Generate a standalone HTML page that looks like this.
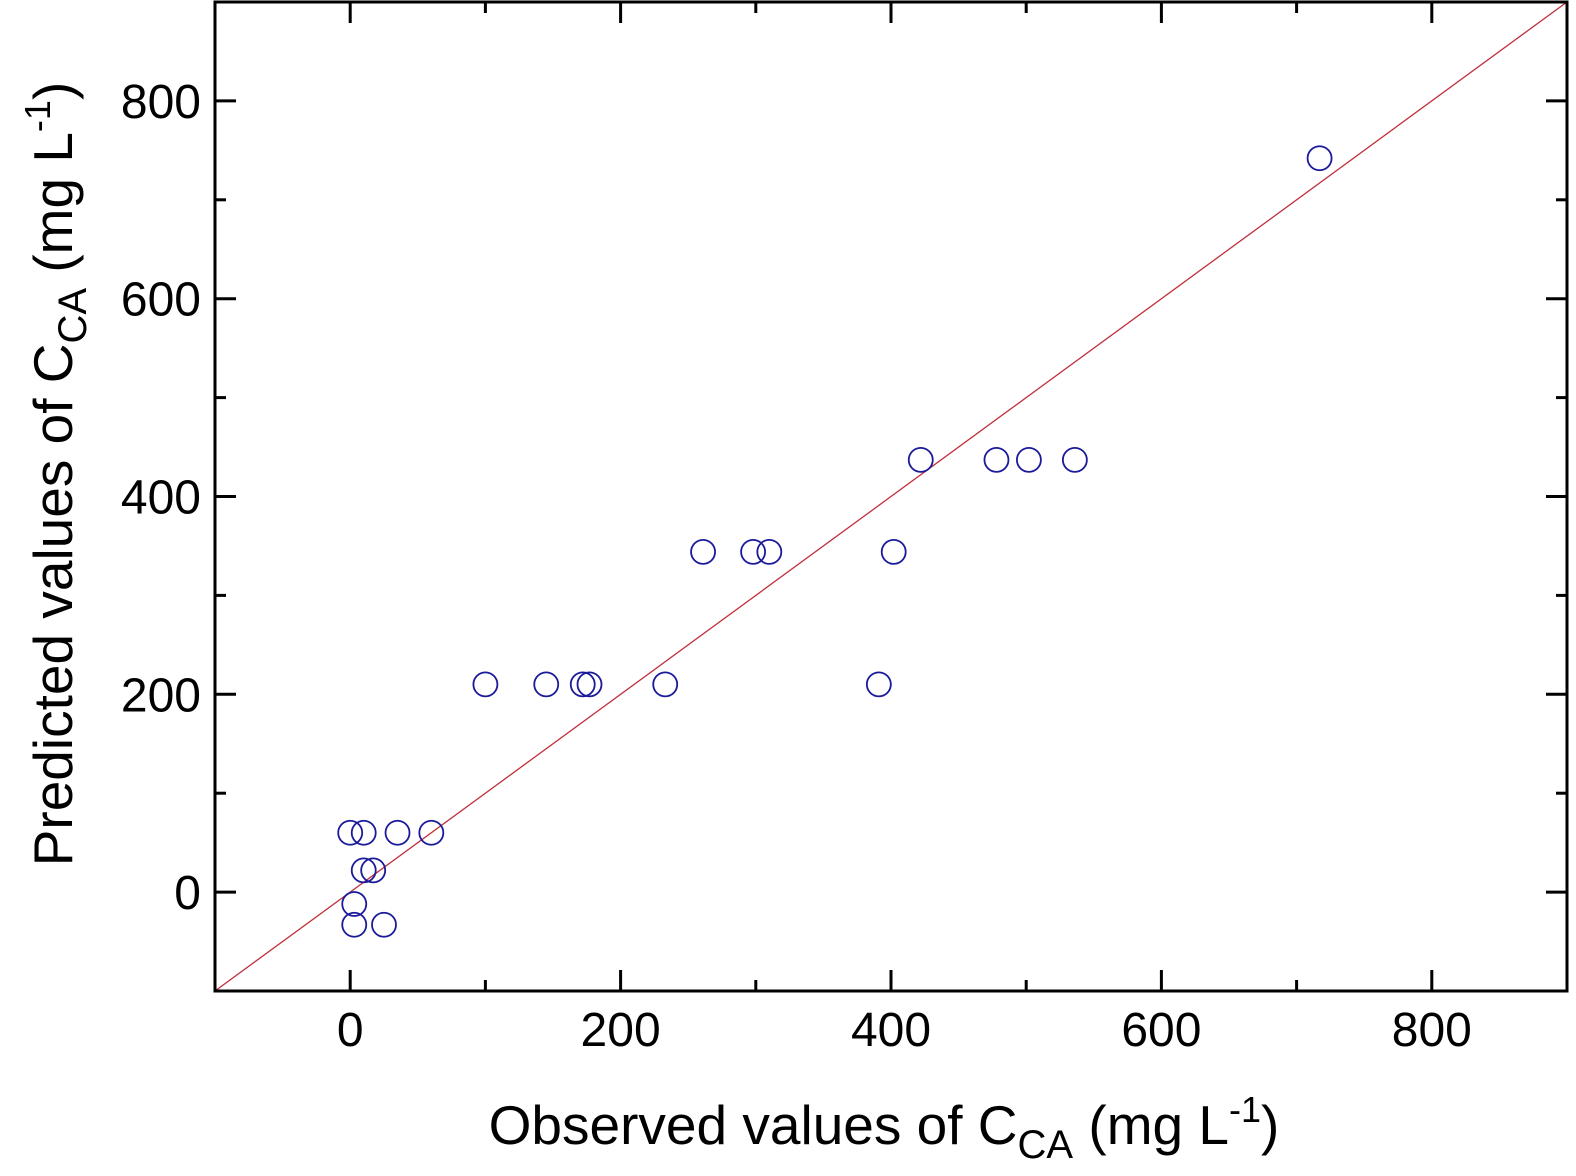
<!DOCTYPE html>
<html><head><meta charset="utf-8"><style>
html,body{margin:0;padding:0;background:#fff;}
svg{display:block;font-family:"Liberation Sans",Arial,sans-serif;}
</style></head><body>
<svg id="chart" width="1576" height="1176" viewBox="0 0 1576 1176">
<g id="plot"></g>
</svg>
<script>
const xs = [0,10,35,60,10,17,3,3,25,100,145,172,177,233,391,261,298,310,402,422,478,502,536,717];
const ys = [60,60,60,60,22,22,-12,-33,-33,210,210,210,210,210,210,344,344,344,344,437,437,437,437,742];
const majorTicks = [0,200,400,600,800];
const minorTicks = [-100,100,300,500,700,900];
const tickLabels = ["0","200","400","600","800"];
const L=215,R=1567,T=2,B=991;
const sx=v=>L+(v+100)*(R-L)/1000;
const sy=v=>B-(v+100)*(B-T)/1000;
const NS="http://www.w3.org/2000/svg";
const g=document.getElementById('plot');
function mk(t,a){const e=document.createElementNS(NS,t);for(const k in a)e.setAttribute(k,a[k]);g.appendChild(e);return e;}
let d=mk('line',{x1:sx(-100),y1:sy(-100),x2:sx(900),y2:sy(900),stroke:'#c0303a','stroke-width':1.3});


xs.forEach((x,i)=>{
 const c=mk('circle',{cx:sx(x),cy:sy(ys[i]),r:12,fill:'none',stroke:'#1a1a9a','stroke-width':1.8});
 
 
});
let f=mk('rect',{x:L,y:T,width:R-L,height:B-T,fill:'none',stroke:'#000','stroke-width':3});


function ticks(vals,len){
 vals.forEach(v=>{
  if(v<=-100||v>=900)return;
  const X=sx(v),Y=sy(v);
  mk('line',{x1:X,y1:B,x2:X,y2:B-len,stroke:'#000','stroke-width':3});
  mk('line',{x1:X,y1:T,x2:X,y2:T+len,stroke:'#000','stroke-width':3});
  mk('line',{x1:L,y1:Y,x2:L+len,y2:Y,stroke:'#000','stroke-width':3});
  mk('line',{x1:R,y1:Y,x2:R-len,y2:Y,stroke:'#000','stroke-width':3});
 });
}
ticks(majorTicks,21);ticks(minorTicks,11);
majorTicks.forEach((v,i)=>{
 const tx=mk('text',{x:sx(v),y:1046,'font-size':48,'text-anchor':'middle'});
 tx.textContent=tickLabels[i];
 
 
 const ty=mk('text',{x:201,y:sy(v)+17,'font-size':48,'text-anchor':'end'});
 ty.textContent=tickLabels[i];
 
 
});
</script>
<svg style="position:absolute;left:0;top:0" width="1576" height="1176">
<text x="884" y="1144" font-size="55" text-anchor="middle" font-family="Liberation Sans, Arial, sans-serif">Observed values of C<tspan font-size="40" dy="14">CA</tspan><tspan dy="-14"> (mg L</tspan><tspan font-size="36" dy="-22">-1</tspan><tspan dy="22">)</tspan></text>
<text transform="translate(72,474) rotate(-90)" font-size="55" text-anchor="middle" font-family="Liberation Sans, Arial, sans-serif">Predicted values of C<tspan font-size="40" dy="14">CA</tspan><tspan dy="-14"> (mg L</tspan><tspan font-size="36" dy="-22">-1</tspan><tspan dy="22">)</tspan></text>
</svg>
</body></html>
